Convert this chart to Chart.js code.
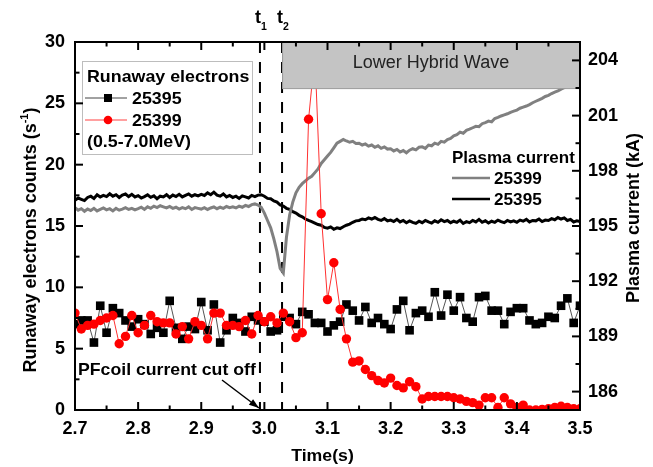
<!DOCTYPE html>
<html>
<head>
<meta charset="utf-8">
<script src="https://cdn.jsdelivr.net/npm/chart.js@4.4.1/dist/chart.umd.min.js"></script>
<style>
  html, body { margin: 0; padding: 0; background: #fff; }
  canvas { display: block; }
</style>
</head>
<body>
<canvas id="chart" width="653" height="467"></canvas>
<script>
// ===== DATA =====
// runaway electron counts, one point every 10 ms from 2.70 s to 3.50 s
const runawayTime = [];
for (let i = 0; i <= 80; i++) runawayTime.push(Math.round((2.7 + i * 0.01) * 1000) / 1000);

const re25395 = [
  7.0, 7.3, 7.3, 5.5, 8.5, 6.3, 8.3, 7.9, 7.3, 6.8,
  7.4, 7.0, 6.2, 6.7, 6.3, 8.9, 6.7, 5.8, 6.8, 6.6,
  8.8, 6.5, 8.6, 5.5, 6.5, 7.5, 7.1, 6.4, 7.6, 7.3,
  7.2, 6.4, 6.5, 7.6, 7.5, 7.0, 8.0, 7.8, 7.1, 7.1,
  6.4, 6.9, 7.2, 8.6, 8.1, 7.3, 8.4, 7.1, 7.5, 7.0,
  6.6, 8.2, 8.9, 6.5, 7.9, 8.1, 7.6, 9.6, 7.7, 9.4,
  8.1, 9.2, 7.5, 7.2, 9.2, 9.3, 8.1, 8.1, 7.0, 8.0,
  8.3, 8.3, 7.3, 7.0, 7.1, 7.6, 7.5, 8.5, 9.1, 7.1,
  8.5
];

const re25399 = [
  7.9, 6.6, 6.9, 7.0, 7.3, 7.5, 7.7, 5.4, 6.0, 7.7,
  6.3, 6.9, 7.7, 7.2, 7.1, 7.1, 6.2, 6.8, 5.8, 7.2,
  6.9, 5.8, 7.9, 7.9, 6.9, 6.9, 6.8, 7.3, 6.2, 7.7,
  7.2, 7.6, 7.1, 7.9, 7.2, 5.9, 6.3, 23.7, 29.0, 16.0,
  9.0, 12.0, 8.2, 5.8, 3.9, 4.0, 3.3, 2.8, 2.4, 2.2,
  2.6, 2.0, 1.8, 2.3, 1.9, 0.9, 1.1, 1.1, 1.1, 1.1,
  1.0, 0.9, 0.7, 0.6, 0.4, 1.0, 1.0, 0.2, 1.0, 0.5,
  0.2, 0.4, 0.0, 0.0, 0.05, 0.1, 0.2, 0.3, 0.2, 0.1,
  0.1
];

// plasma current (kA), one sample every 5 ms from 2.700 s to 3.500 s
const plasmaTime = [];
for (let i = 0; i <= 160; i++) plasmaTime.push(Math.round((2.7 + i * 0.005) * 1000) / 1000);

const ip25395 = [
  196.40, 196.52, 196.45, 196.38, 196.55, 196.62, 196.50, 196.70, 196.58, 196.66,
  196.60, 196.75, 196.62, 196.70, 196.55, 196.68, 196.74, 196.60, 196.72, 196.58,
  196.65, 196.52, 196.60, 196.70, 196.56, 196.64, 196.48, 196.62, 196.58, 196.70,
  196.55, 196.68, 196.60, 196.72, 196.58, 196.66, 196.74, 196.62, 196.70, 196.64,
  196.72, 196.66, 196.80, 196.70, 196.84, 196.68, 196.62, 196.74, 196.58, 196.66,
  196.55, 196.62, 196.50, 196.64, 196.58, 196.52, 196.66, 196.60, 196.68, 196.70,
  196.62, 196.50, 196.48, 196.36, 196.30, 196.14, 196.08, 195.96, 195.90, 195.78,
  195.70, 195.58, 195.50, 195.38, 195.30, 195.24, 195.16, 195.08, 195.04, 194.92,
  194.88, 194.95, 194.82, 194.90, 194.86, 194.96, 195.04, 195.10, 195.20, 195.28,
  195.30, 195.38, 195.34, 195.44, 195.38, 195.46, 195.36, 195.30, 195.40, 195.28,
  195.32, 195.24, 195.36, 195.22, 195.30, 195.18, 195.28, 195.20, 195.14, 195.26,
  195.18, 195.30, 195.22, 195.16, 195.28, 195.20, 195.34, 195.24, 195.30, 195.18,
  195.26, 195.20, 195.32, 195.14, 195.24, 195.18, 195.30, 195.22, 195.36, 195.20,
  195.28, 195.16, 195.26, 195.20, 195.32, 195.24, 195.18, 195.30, 195.22, 195.28,
  195.20, 195.32, 195.26, 195.36, 195.22, 195.30, 195.28, 195.38, 195.24, 195.32,
  195.30, 195.40, 195.34, 195.46, 195.38, 195.44, 195.30, 195.36, 195.22, 195.28,
  195.24
];

const ip25399 = [
  196.00, 195.86, 195.94, 195.80, 195.92, 195.84, 195.96, 195.82, 195.90, 195.98,
  195.88, 195.94, 195.82, 195.96, 195.86, 195.92, 196.00, 195.90, 195.96, 195.88,
  195.94, 196.02, 195.90, 196.04, 195.96, 196.08, 196.00, 196.10, 196.04, 195.98,
  196.06, 195.96, 196.02, 195.92, 196.00, 195.94, 196.04, 195.90, 196.00, 195.96,
  195.92, 196.00, 195.90, 195.98, 196.04, 195.94, 196.02, 195.96, 196.06, 196.00,
  196.04, 195.98, 196.08, 196.02, 196.12, 196.06, 196.16, 196.20, 196.14, 196.02,
  195.70, 195.30, 194.90, 194.30, 193.60, 192.70, 192.45, 194.40, 195.60, 196.30,
  196.80, 197.10, 197.30, 197.45, 197.60, 197.70, 197.90, 198.10, 198.40, 198.60,
  198.80, 199.00, 199.25, 199.50, 199.60, 199.70, 199.62, 199.55, 199.60, 199.48,
  199.50, 199.40, 199.46, 199.34, 199.40, 199.28, 199.36, 199.22, 199.30, 199.18,
  199.20, 199.08, 199.16, 199.02, 199.10, 198.98, 199.12, 199.20, 199.14, 199.28,
  199.30, 199.22, 199.40, 199.36, 199.50, 199.44, 199.60, 199.56, 199.70, 199.76,
  199.90, 199.96, 200.10, 200.04, 200.20, 200.26, 200.34, 200.42, 200.40, 200.56,
  200.62, 200.70, 200.66, 200.84, 200.90, 200.98, 201.04, 201.10, 201.18, 201.24,
  201.30, 201.40, 201.46, 201.52, 201.60, 201.70, 201.78, 201.86, 201.94, 202.04,
  202.10, 202.20, 202.28, 202.34, 202.44, 202.52, 202.60, 202.66, 202.74, 202.80,
  202.88
];

// ticks
const xTicks = [2.7, 2.8, 2.9, 3.0, 3.1, 3.2, 3.3, 3.4, 3.5];
const xTickLabels = ['2.7', '2.8', '2.9', '3.0', '3.1', '3.2', '3.3', '3.4', '3.5'];
const reTicks = [0, 5, 10, 15, 20, 25, 30];
const reTickLabels = ['0', '5', '10', '15', '20', '25', '30'];
const ipTicks = [186, 189, 192, 195, 198, 201, 204];
const ipTickLabels = ['186', '189', '192', '195', '198', '201', '204'];

// markers in time / value
const t1 = 2.993;          // PF coil current cut off
const t2 = 3.028;          // LHW on
const lhwEnd = 3.5;
const lhwBottom = 26.2;    // lower edge of the LHW band, in counts

const FONT = '"Liberation Sans", Arial, sans-serif';

// ===== HELPERS =====
function drawText(ctx, s, x, y, size, o = {}) {
    ctx.save();
    ctx.font = (o.normal ? '' : 'bold ') + size + 'px ' + FONT;
    ctx.fillStyle = o.color || '#000';
    ctx.textAlign = o.align || 'left';
    ctx.textBaseline = 'alphabetic';
    ctx.translate(x, y);
    if (o.rot) ctx.rotate(o.rot);
    ctx.scale(o.sx || 1, 1);
    ctx.fillText(s, 0, 0);
    ctx.restore();
}

function line(ctx, x1, y1, x2, y2, color, w) {
    ctx.beginPath();
    ctx.moveTo(x1, y1);
    ctx.lineTo(x2, y2);
    ctx.strokeStyle = color;
    ctx.lineWidth = w;
    ctx.stroke();
}

function midpoints(arr) {
    const m = [];
    for (let i = 0; i < arr.length - 1; i++) m.push((arr[i] + arr[i + 1]) / 2);
    return m;
}

// ===== DECORATION PLUGIN =====
const decor = {
    id: 'decor',
    beforeDatasetsDraw(chart) {
        const { ctx, chartArea: a, scales: { x } } = chart;
        ctx.save();
        ctx.setLineDash([11, 9]);
        line(ctx, x.getPixelForValue(t1), a.top, x.getPixelForValue(t1), a.bottom, '#000', 2);
        line(ctx, x.getPixelForValue(t2), a.top, x.getPixelForValue(t2), a.bottom, '#000', 2);
        ctx.restore();
    },
    afterDatasetsDraw(chart) {
        const { ctx, chartArea: a, scales: { x, y, y1 } } = chart;
        ctx.save();

        // Lower Hybrid Wave band
        const bx = x.getPixelForValue(t2), bxr = x.getPixelForValue(lhwEnd);
        const by = y.getPixelForValue(lhwBottom);
        ctx.fillStyle = '#c4c4c4';
        ctx.fillRect(bx, a.top, bxr - bx, by - a.top);
        ctx.strokeStyle = '#9a9a9a';
        ctx.lineWidth = 1;
        ctx.strokeRect(bx + 0.5, a.top, bxr - bx - 1, by - a.top);
        drawText(ctx, 'Lower Hybrid Wave', (bx + bxr) / 2, 68, 18, { normal: true, align: 'center', color: '#222' });

        // runaway legend
        ctx.fillStyle = '#fff';
        ctx.fillRect(83, 62, 169, 92);
        ctx.strokeStyle = '#bdbdbd';
        ctx.lineWidth = 1;
        ctx.strokeRect(82.5, 61.5, 170, 93);
        drawText(ctx, 'Runaway electrons', 87, 82, 16.5, { sx: 1.08 });
        line(ctx, 85, 98, 127, 98, '#444', 1);
        ctx.fillStyle = '#000';
        ctx.fillRect(104, 94, 8, 8);
        drawText(ctx, '25395', 132, 104, 16.5, { sx: 1.08 });
        line(ctx, 85, 120, 127, 120, '#ff8080', 1.5);
        ctx.beginPath();
        ctx.arc(108, 120, 4.3, 0, Math.PI * 2);
        ctx.fillStyle = '#ff0000';
        ctx.fill();
        drawText(ctx, '25399', 132, 126, 16.5, { sx: 1.08 });
        drawText(ctx, '(0.5-7.0MeV)', 87, 147, 16.5, { sx: 1.08 });

        // plasma current legend
        drawText(ctx, 'Plasma current', 452, 163, 16.5, { sx: 1.03 });
        line(ctx, 452, 178, 490, 178, '#808080', 2.5);
        drawText(ctx, '25399', 494, 184, 16.5, { sx: 1.04 });
        line(ctx, 452, 199, 490, 199, '#000', 2.5);
        drawText(ctx, '25395', 494, 205, 16.5, { sx: 1.04 });

        // annotation + arrow
        drawText(ctx, 'PFcoil current cut off', 78, 375, 17, { sx: 1.04 });
        const ax = x.getPixelForValue(t1) - 1, ay = a.bottom - 2;
        line(ctx, 222, 380, ax, ay, '#000', 1.5);
        const ang = Math.atan2(ay - 380, ax - 222);
        ctx.beginPath();
        ctx.moveTo(ax, ay);
        ctx.lineTo(ax - 10 * Math.cos(ang) + 3.5 * Math.sin(ang), ay - 10 * Math.sin(ang) - 3.5 * Math.cos(ang));
        ctx.lineTo(ax - 10 * Math.cos(ang) - 3.5 * Math.sin(ang), ay - 10 * Math.sin(ang) + 3.5 * Math.cos(ang));
        ctx.closePath();
        ctx.fillStyle = '#000';
        ctx.fill();

        // t1 / t2 labels
        const tx1 = x.getPixelForValue(t1), tx2 = x.getPixelForValue(t2);
        drawText(ctx, 't', tx1 - 5, 23, 18);
        drawText(ctx, '1', tx1 + 1, 30, 10.5);
        drawText(ctx, 't', tx2 - 5, 23, 18);
        drawText(ctx, '2', tx2 + 1, 30, 10.5);

        // frame
        ctx.strokeStyle = '#000';
        ctx.lineWidth = 2;
        ctx.strokeRect(a.left, a.top, a.right - a.left, a.bottom - a.top);

        // inward ticks
        const major = 8, minor = 4.5;
        xTicks.forEach(v => {
            const px = x.getPixelForValue(v);
            line(ctx, px, a.bottom, px, a.bottom - major, '#000', 2);
            line(ctx, px, a.top, px, a.top + major, '#000', 2);
        });
        midpoints(xTicks).forEach(v => {
            const px = x.getPixelForValue(v);
            line(ctx, px, a.bottom, px, a.bottom - minor, '#000', 2);
            line(ctx, px, a.top, px, a.top + minor, '#000', 2);
        });
        reTicks.forEach(v => {
            const py = y.getPixelForValue(v);
            line(ctx, a.left, py, a.left + major, py, '#000', 2);
        });
        midpoints(reTicks).forEach(v => {
            const py = y.getPixelForValue(v);
            line(ctx, a.left, py, a.left + minor, py, '#000', 2);
        });
        ipTicks.forEach(v => {
            const py = y1.getPixelForValue(v);
            line(ctx, a.right, py, a.right - major, py, '#000', 2);
        });
        midpoints(ipTicks).forEach(v => {
            const py = y1.getPixelForValue(v);
            line(ctx, a.right, py, a.right - minor, py, '#000', 2);
        });

        // axis titles
        const main = 'Runaway electrons counts (s', close = ')';
        ctx.font = 'bold 11px ' + FONT;
        const supW = ctx.measureText('-1').width;
        ctx.font = 'bold 18px ' + FONT;
        const mainW = ctx.measureText(main).width, closeW = ctx.measureText(close).width;
        const total = mainW + supW + closeW;
        ctx.save();
        ctx.translate(30, (a.top + a.bottom) / 2 + 14);
        ctx.rotate(-Math.PI / 2);
        ctx.fillStyle = '#000';
        ctx.textBaseline = 'alphabetic';
        ctx.textAlign = 'left';
        ctx.fillText(main, -total / 2, 6);
        ctx.font = 'bold 11px ' + FONT;
        ctx.fillText('-1', -total / 2 + mainW, -2);
        ctx.font = 'bold 18px ' + FONT;
        ctx.fillText(close, -total / 2 + mainW + supW, 6);
        ctx.restore();

        drawText(ctx, 'Plasma current (kA)', 639, 218, 18, { rot: -Math.PI / 2, align: 'center' });
        drawText(ctx, 'Time(s)', (a.left + a.right) / 2 - 5, 461, 17, { align: 'center', sx: 1.04 });

        ctx.restore();
    }
};

// ===== CHART =====
const tickFont = { family: FONT, size: 18, weight: 'bold' };

new Chart(document.getElementById('chart'), {
    type: 'line',
    data: {
        datasets: [
            {
                label: '25399 runaway',
                data: runawayTime.map((t, i) => ({ x: t, y: re25399[i] })),
                yAxisID: 'y',
                borderColor: '#ff3030',
                borderWidth: 1,
                pointStyle: 'circle',
                pointRadius: 4.7,
                pointBorderWidth: 0,
                pointBackgroundColor: '#ff0000',
                clip: 0
            },
            {
                label: '25395 runaway',
                data: runawayTime.map((t, i) => ({ x: t, y: re25395[i] })),
                yAxisID: 'y',
                borderColor: '#555',
                borderWidth: 1,
                pointStyle: 'rect',
                pointRadius: 6.1,
                pointBorderWidth: 0,
                pointBackgroundColor: '#000',
                clip: 0
            },
            {
                label: '25399 Ip',
                data: plasmaTime.map((t, i) => ({ x: t, y: ip25399[i] })),
                yAxisID: 'y1',
                borderColor: '#808080',
                borderWidth: 3,
                pointRadius: 0,
                clip: 0
            },
            {
                label: '25395 Ip',
                data: plasmaTime.map((t, i) => ({ x: t, y: ip25395[i] })),
                yAxisID: 'y1',
                borderColor: '#000',
                borderWidth: 3,
                pointRadius: 0,
                clip: 0
            }
        ]
    },
    options: {
        responsive: false,
        animation: false,
        devicePixelRatio: 1,
        layout: { padding: { top: 42, left: 0, right: 0, bottom: 0 } },
        plugins: { legend: { display: false }, tooltip: { enabled: false } },
        scales: {
            x: {
                type: 'linear',
                min: 2.7,
                max: 3.5,
                afterFit: s => { s.height = 57; },
                afterBuildTicks: s => { s.ticks = xTicks.map(v => ({ value: v })); },
                ticks: {
                    callback: (v, i) => xTickLabels[i],
                    font: tickFont, color: '#000', padding: 8,
                    maxRotation: 0, autoSkip: false
                },
                grid: { display: false, drawTicks: false },
                border: { display: false }
            },
            y: {
                type: 'linear',
                position: 'left',
                min: 0,
                max: 30,
                afterFit: s => { s.width = 75; },
                afterBuildTicks: s => { s.ticks = reTicks.map(v => ({ value: v })); },
                ticks: {
                    callback: (v, i) => reTickLabels[i],
                    font: tickFont, color: '#000', padding: 10, autoSkip: false
                },
                grid: { display: false, drawTicks: false },
                border: { display: false }
            },
            y1: {
                type: 'linear',
                position: 'right',
                min: 185,
                max: 205,
                afterFit: s => { s.width = 73; },
                afterBuildTicks: s => { s.ticks = ipTicks.map(v => ({ value: v })); },
                ticks: {
                    callback: (v, i) => ipTickLabels[i],
                    font: tickFont, color: '#000', padding: 8, autoSkip: false
                },
                grid: { display: false, drawTicks: false },
                border: { display: false }
            }
        }
    },
    plugins: [decor]
});
</script>
</body>
</html>
